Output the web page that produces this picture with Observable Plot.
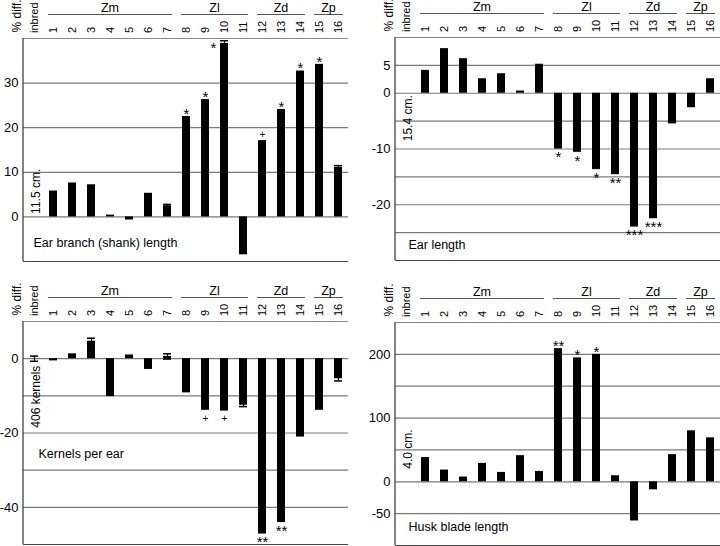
<!DOCTYPE html>
<html><head><meta charset="utf-8">
<script src="https://cdn.jsdelivr.net/npm/d3@7"></script>
<script src="https://cdn.jsdelivr.net/npm/@observablehq/plot@0.6"></script>
<style>
body{margin:0;background:#fff;}
#wrap{position:relative;width:720px;height:546px;overflow:hidden;background:#fff;}
.panel{position:absolute;}
.panel svg{display:block;}
[aria-label^="y-axis"] text{font-size:13px;}
</style></head><body><div id="wrap"></div>
<script>
// ---- categories & groups ----
const categories = ["inbred","1","2","3","4","5","6","7","8","9","10","11","12","13","14","15","16"];
const groupNames = ["Zm","Zl","Zd","Zp"];
const groupFrom  = ["1","8","12","15"];
const groupTo    = ["7","11","14","16"];

// ---- Ear branch (shank) length ----
const shankValues = [0, 5.8, 7.6, 7.2, 0.4, -0.7, 5.3, 2.5, 22.5, 26.3, 38.9, -8.5, 17.1, 24.1, 32.7, 34.2, 11.1];
const shankErrors = [0, 0, 0, 0, 0, 0, 0, 0.3, 0, 0, 0.6, 0, 0, 0, 0, 0, 0.4];
const shankMarks  = ["", "", "", "", "", "", "", "", "*", "*", "*", "", "+", "*", "*", "*", ""];

// ---- Ear length ----
const earValues = [0, 4.1, 8.0, 6.2, 2.6, 3.5, 0.4, 5.2, -10.0, -10.6, -13.7, -14.6, -24.0, -22.5, -5.5, -2.6, 2.6];
const earErrors = [0, 0, 0, 0, 0, 0, 0, 0, 0, 0, 0, 0, 0, 0, 0, 0, 0];
const earMarks  = ["", "", "", "", "", "", "", "", "*", "*", "*", "**", "***", "***", "", "", ""];

// ---- Kernels per ear ----
const kernelValues = [0, -0.6, 1.3, 4.7, -10.2, 1.0, -2.9, 0.6, -9.2, -13.9, -14.1, -12.5, -47.2, -44.1, -21.1, -13.9, -5.4];
const kernelErrors = [0.7, 0, 0, 0.8, 0, 0, 0, 0.7, 0, 0, 0, 0.4, 0, 0, 0, 0, 0.6];
const kernelMarks  = ["", "", "", "", "", "", "", "", "", "+", "+", "", "**", "**", "", "", ""];

// ---- Husk blade length ----
const huskValues = [0, 38, 18.4, 7.4, 28.9, 14.7, 41, 16.3, 209, 194.5, 200, 9.5, -61.5, -12.6, 42.6, 80, 69];
const huskErrors = [0, 0, 0, 0, 0, 0, 0, 0, 0, 0, 0, 0, 0, 0, 0, 0, 0];
const huskMarks  = ["", "", "", "", "", "", "", "", "**", "*", "*", "", "", "", "", "", ""];

// ---- panel texts & axes ----
const titles = ["Ear branch (shank) length", "Ear length", "Kernels per ear", "Husk blade length"];
const units  = ["11.5 cm.", "15.4 cm.", "406 kernels", "4.0 cm."];
const yDomains = [[-10, 40], [-30, 10], [-50, 10], [-100, 250]];
const yTicks = [[0, 10, 20, 30], [5, 0, -10, -20], [0, -20, -40], [200, 100, 0, -50]];
const yGrid = [[0, 10, 20, 30], [5, 0, -5, -10, -15, -20, -25], [0, -10, -20, -30, -40], [200, 150, 100, 50, 0, -50]];

const FONT = '"Liberation Sans", Arial, Helvetica, sans-serif';

// header: left axis line, rotated column labels, group labels with lines
function header() {
  return (index, scales, values, dims) => {
    const g = d3.create("svg:g").attr("font-family", FONT).attr("fill", "black");
    const x = scales.x, bw = x.bandwidth();
    const top = dims.marginTop;
    g.append("line").attr("x1", dims.marginLeft).attr("x2", dims.marginLeft)
      .attr("y1", top).attr("y2", dims.height - dims.marginBottom)
      .attr("stroke", "#333").attr("stroke-width", 1.2);
    for (const c of categories) {
      const cx = x(c) + bw / 2;
      g.append("text")
        .attr("transform", `translate(${cx},${top - 5}) rotate(-90)`)
        .attr("text-anchor", "start").attr("dy", "0.35em")
        .attr("font-size", 11).text(c);
    }
    groupNames.forEach((name, k) => {
      const x1 = x(groupFrom[k]) - 1, x2 = x(groupTo[k]) + bw + 1;
      g.append("line").attr("x1", x1).attr("x2", x2)
        .attr("y1", top - 23.5).attr("y2", top - 23.5)
        .attr("stroke", "#555").attr("stroke-width", 1);
      g.append("text").attr("x", (x1 + x2) / 2).attr("y", top - 26.5)
        .attr("text-anchor", "middle").attr("font-size", 12.5).text(name);
    });
    return g.node();
  };
}

function annotations(rows) {
  const out = [];
  const isStar = d => d.m.includes("*");
  const side = rows.filter(d => d.e > 0);
  const plain = rows.filter(d => !(d.e > 0));
  const groupsA = [
    [plain.filter(d => isStar(d) && d.v >= 0), -2.5, 15],
    [plain.filter(d => isStar(d) && d.v < 0), 8.5, 15],
    [plain.filter(d => !isStar(d) && d.v >= 0), -6, 10],
    [plain.filter(d => !isStar(d) && d.v < 0), 8, 10]
  ];
  for (const [data, dy, fs] of groupsA) {
    if (data.length) out.push(Plot.text(data, {x: "cat", y: "v", text: "m", dy, fontSize: fs, fill: "black", lineAnchor: "middle"}));
  }
  if (side.length) out.push(Plot.text(side, {x: "cat", y: "v", text: "m", dx: -11, dy: 5, fontSize: 15, fill: "black"}));
  return out;
}

function panel(k, values, errors, marksArr, opts) {
  const rows = categories.map((c, i) => ({cat: c, v: values[i], e: errors[i], m: marksArr[i]}));
  const bars = rows.filter(d => d.cat !== "inbred");
  const errs = rows.filter(d => d.e > 0);
  const ann = rows.filter(d => d.m);
  const chart = Plot.plot({
    width: opts.width, height: opts.height,
    marginLeft: opts.ml, marginRight: opts.mr, marginTop: opts.mt, marginBottom: opts.mb,
    style: {fontFamily: FONT, fontSize: "11px", color: "black", background: "transparent", overflow: "visible"},
    x: {type: "band", domain: categories, paddingInner: 0.58, paddingOuter: 0.29, axis: null},
    y: {domain: yDomains[k], ticks: yTicks[k], tickFormat: d => String(d), tickSize: 0, tickPadding: 5, label: null},
    marks: [
      Plot.ruleY(yGrid[k], {stroke: "#7a7a7a", strokeWidth: 1.2}),
      Plot.ruleY([yDomains[k][1]], {stroke: "#8a8a8a", strokeWidth: 1.2}),
      Plot.ruleY([yDomains[k][0]], {stroke: "#444", strokeWidth: 1.2}),
      Plot.barY(bars, {x: "cat", y: "v", fill: "black"}),
      Plot.ruleX(errs, {x: "cat", y1: d => d.v - d.e, y2: d => d.v + d.e, stroke: "black", strokeWidth: 1.2}),
      Plot.tickY(errs, {x: "cat", y: d => d.v + d.e, stroke: "black", strokeWidth: 1.5}),
      Plot.tickY(errs, {x: "cat", y: d => d.v - d.e, stroke: "black", strokeWidth: 1.5}),
      ...annotations(ann),
      // % diff.
      Plot.text(["% diff."], {text: d => d, frameAnchor: "top-left", rotate: -90, textAnchor: "start", dx: -11, dy: -6, fontSize: 12, fill: "black"}),
      // unit label at inbred
      Plot.text([units[k]], {x: () => "inbred", y: () => 0, text: d => d, rotate: -90, textAnchor: opts.unitAnchor, dy: opts.unitDy, dx: 2, fontSize: 12, fill: "black"}),
      // title
      Plot.text([titles[k]], {text: d => d, frameAnchor: "bottom-left", textAnchor: "start", lineAnchor: "bottom", dx: opts.tdx, dy: -opts.tdy, fontSize: 12.5, fill: "black"}),
      header()
    ]
  });
  const div = document.createElement("div");
  div.className = "panel";
  div.style.left = opts.left + "px";
  div.style.top = opts.top + "px";
  div.appendChild(chart);
  document.getElementById("wrap").appendChild(div);
}

panel(0, shankValues, shankErrors, shankMarks,
  {left: 0, top: 0, width: 360, height: 264, ml: 23, mr: 12, mt: 38, mb: 3, unitAnchor: "start", unitDy: -3, tdx: 10, tdy: 15});
panel(1, earValues, earErrors, earMarks,
  {left: 360, top: 0, width: 360, height: 263, ml: 35, mr: 0, mt: 37, mb: 3, unitAnchor: "end", unitDy: 2, tdx: 13, tdy: 12});
panel(2, kernelValues, kernelErrors, kernelMarks,
  {left: 0, top: 270, width: 360, height: 276, ml: 23, mr: 12, mt: 51, mb: 2, unitAnchor: "end", unitDy: 7, tdx: 15, tdy: 87});
panel(3, huskValues, huskErrors, huskMarks,
  {left: 360, top: 270, width: 360, height: 276, ml: 35, mr: 0, mt: 52, mb: 1, unitAnchor: "start", unitDy: -13, tdx: 13, tdy: 15});
</script></body></html>
